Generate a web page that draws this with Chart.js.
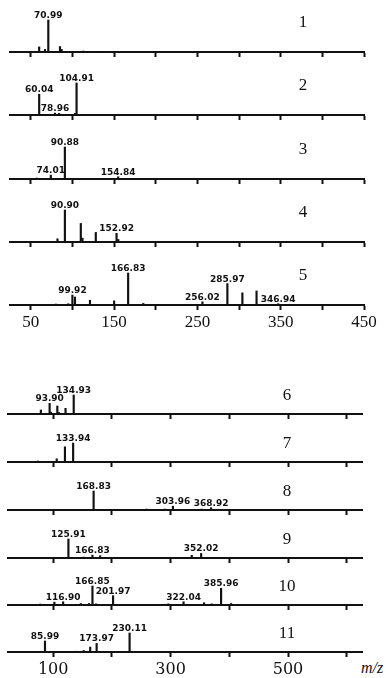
<!DOCTYPE html>
<html><head><meta charset="utf-8">
<script src="https://cdn.jsdelivr.net/npm/chart.js@4/dist/chart.umd.min.js"></script>
<style>
html,body{margin:0;padding:0;background:#fff;width:388px;height:678px;overflow:hidden;position:relative}
canvas{position:absolute;left:0}
#mz{position:absolute;left:361px;top:659px;font:italic 16px "Liberation Serif",serif;color:#111}
</style></head><body>
<div id="mz">m/z</div>
<script>
// ---- data: [m/z, relative intensity %] ----
const panelNames = ['1','2','3','4','5','6','7','8','9','10','11'];
const spec1 = [[60,16],[67,8],[70.99,100],[85,17],[87,8],[113,3],[130,2]];
const spec2 = [[60.04,65],[78.96,6],[84,5],[103,5],[104.91,100],[130,2],[165,1]];
const spec3 = [[57,3],[74.01,12],[90.88,100],[154.84,7]];
const spec4 = [[71,2],[82,10],[90.90,100],[110,58],[112,12],[128,30],[152.92,27],[155,8]];
const spec5 = [[80,3],[95,4],[99.92,31],[103,25],[121,15],[150,13],[166.83,100],[185,5],[240,2],[256.02,10],[285.97,67],[304,38],[321,44],[346.94,4]];
const spec6 = [[79,21],[93.90,56],[96,10],[107,42],[110,8],[121,30],[134.93,100]];
const spec7 = [[74,5],[90,3],[106,17],[120,80],[133.94,100]];
const spec8 = [[40,2],[168.83,100],[259,5],[290,5],[303.96,20],[353,5],[368.92,12]];
const spec9 = [[125.91,100],[152,5],[166.83,15],[180,12],[336,14],[352.02,24]];
const spec10 = [[78,5],[102,15],[116.90,17],[147,8],[161,8],[166.85,100],[173,6],[201.97,49],[296,6],[322.04,17],[357,12],[370,6],[385.96,88],[403,8]];
const spec11 = [[85.99,58],[112,3],[124,3],[138,4],[152,8],[163,26],[173.97,45],[230.11,100]];
const labeled1 = [70.99];
const labeled2 = [60.04,78.96,104.91];
const labeled3 = [74.01,90.88,154.84];
const labeled4 = [90.90,152.92];
const labeled5 = [99.92,166.83,256.02,285.97,346.94];
const labeled6 = [93.90,134.93];
const labeled7 = [133.94];
const labeled8 = [168.83,303.96,368.92];
const labeled9 = [125.91,166.83,352.02];
const labeled10 = [116.90,166.85,201.97,322.04,385.96];
const labeled11 = [85.99,173.97,230.11];
const topTicks = [50,100,150,200,250,300,350,400,450];
const topTickLabels = [50,150,250,350,450];
const bottomTicks = [100,200,300,400,500,600];
const bottomTickLabels = [100,300,500];
const topRange = [25,450];
const bottomRange = [23,626];

const spectra = [spec1,spec2,spec3,spec4,spec5,spec6,spec7,spec8,spec9,spec10,spec11];
const labeled = [labeled1,labeled2,labeled3,labeled4,labeled5,labeled6,labeled7,labeled8,labeled9,labeled10,labeled11];

const groups = [
  {idx:[0,1,2,3,4], baselines:[52,115,179,242,305], peakH:32, above:48, padL:10, padR:24,
   range:topRange, ticks:topTicks, tickLabels:topTickLabels,
   tickFont:{family:'"Liberation Serif", serif', size:17}, tickPad:2, numX:303, numDy:29},
  {idx:[5,6,7,8,9,10], baselines:[414,462,510,558,605,652], peakH:19, above:34, padL:8, padR:26,
   range:bottomRange, ticks:bottomTicks, tickLabels:bottomTickLabels,
   tickFont:{family:'"DejaVu Serif", serif', size:16}, tickPad:3, numX:287, numDy:18}
];

groups.forEach(g => {
  g.idx.forEach((pi, k) => {
    const isLast = k === g.idx.length - 1;
    const axisH = isLast ? 30 : 8;
    const cv = document.createElement('canvas');
    cv.width = 388; cv.height = g.above + axisH;
    cv.style.top = (g.baselines[k] - g.above) + 'px';
    document.body.appendChild(cv);
    const spec = spectra[pi];
    const annot = {
      id: 'annot' + pi,
      afterDatasetsDraw(chart) {
        const {ctx, scales:{x, y}} = chart;
        ctx.save();
        ctx.fillStyle = '#111';
        ctx.font = 'bold 9px "DejaVu Sans", sans-serif';
        ctx.textAlign = 'center';
        ctx.textBaseline = 'alphabetic';
        labeled[pi].forEach(mz => {
          const pt = spec.find(d => d[0] === mz);
          ctx.fillText(mz.toFixed(2), x.getPixelForValue(mz), y.getPixelForValue(pt[1]) - 2);
        });
        ctx.font = '17px "Liberation Serif", serif';
        ctx.textBaseline = 'middle';
        ctx.fillText(panelNames[pi], g.numX, chart.chartArea.bottom - g.numDy);
        ctx.restore();
      }
    };
    new Chart(cv, {
      type: 'bar',
      data: {datasets: [{data: spec.map(([x, y]) => ({x, y})), backgroundColor: '#111', barThickness: 1.5, clip: false}]},
      options: {
        responsive: false, animation: false, devicePixelRatio: 1,
        layout: {padding: {left: g.padL, right: g.padR, top: g.above - g.peakH, bottom: 0}},
        plugins: {legend: {display: false}, tooltip: {enabled: false}},
        scales: {
          x: {
            type: 'linear', min: g.range[0], max: g.range[1], offset: false,
            afterBuildTicks: ax => { ax.ticks = g.ticks.map(v => ({value: v})); },
            afterFit: sc => { sc.height = axisH; },
            grid: {display: true, offset: false, drawOnChartArea: false, drawTicks: true, tickLength: 5, tickWidth: 2, tickColor: '#111'},
            border: {display: true, width: 2, color: '#111'},
            ticks: {display: isLast, autoSkip: false, maxRotation: 0, color: '#111', font: g.tickFont, padding: g.tickPad,
              callback: v => g.tickLabels.includes(v) ? String(v) : ''}
          },
          y: {display: false, min: 0, max: 100}
        }
      },
      plugins: [annot]
    });
  });
});
</script>
</body></html>
